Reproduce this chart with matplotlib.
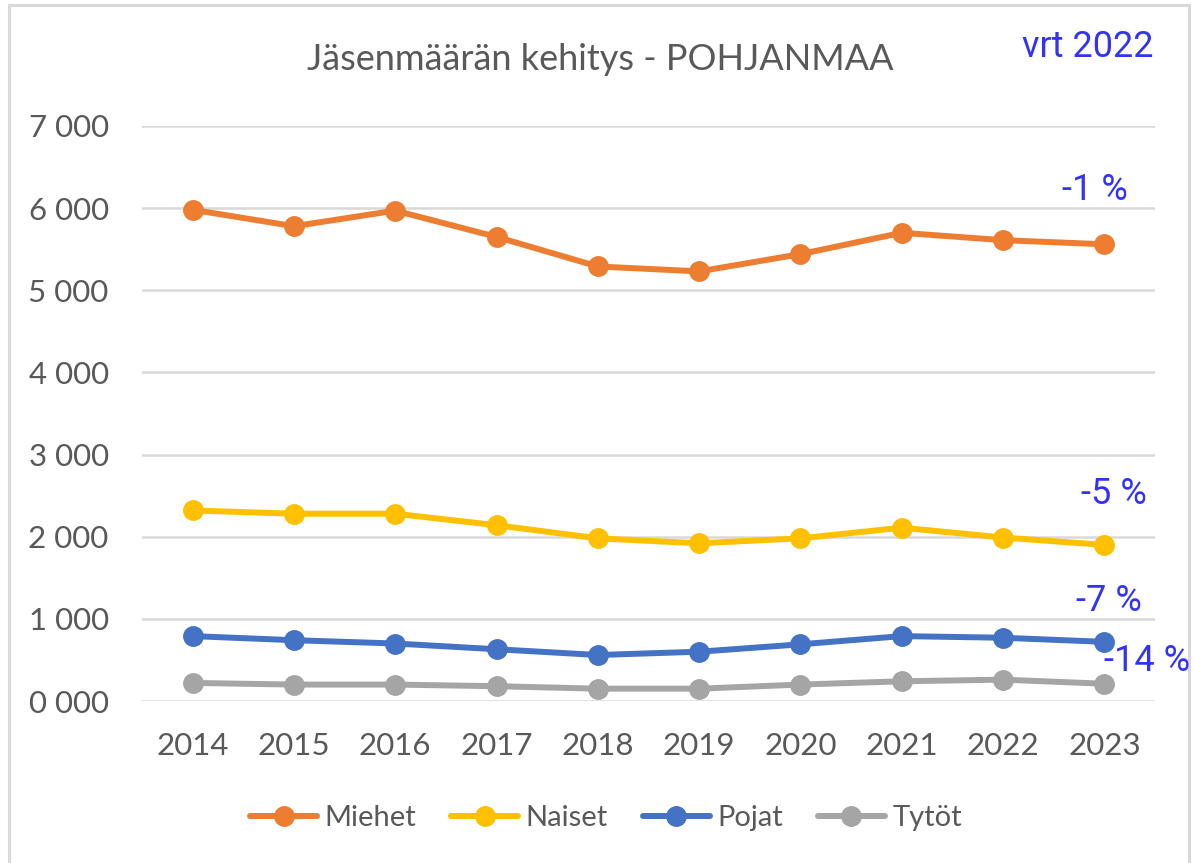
import matplotlib.pyplot as plt
from matplotlib.patches import Rectangle
from matplotlib.ticker import FuncFormatter

years = ['2014', '2015', '2016', '2017', '2018', '2019', '2020', '2021', '2022', '2023']
miehet = [5980, 5780, 5970, 5650, 5290, 5230, 5440, 5700, 5610, 5560]
naiset = [2320, 2280, 2280, 2140, 1980, 1920, 1980, 2110, 1990, 1900]
pojat = [790, 740, 700, 630, 560, 600, 690, 790, 770, 720]
tytot = [220, 200, 200, 180, 150, 150, 200, 240, 260, 210]
names = ['Miehet', 'Naiset', 'Pojat', 'Tytöt']
colors = ['#ed7d31', '#ffc000', '#4472c4', '#a5a5a5']
changes = ['-1 %', '-5 %', '-7 %', '-14 %']

W, H = 1194, 863
fig = plt.figure(figsize=(W / 100, H / 100), dpi=100)
plt.rcParams['font.family'] = ['Lato', 'DejaVu Sans']

# outer frame (no bottom edge visible in the original)
fig.patches.append(Rectangle((9 / W, -0.01), (1189 - 9) / W, 1.01 - 5 / H,
                             transform=fig.transFigure, fill=False,
                             edgecolor='#d9d9d9', linewidth=2.2))

ax = fig.add_axes([142 / W, 1 - 701 / H, (1155 - 142) / W, (701 - 126) / H])
x = range(len(years))
for vals, name, c in zip([miehet, naiset, pojat, tytot], names, colors):
    ax.plot(x, vals, color=c, linewidth=4.3, marker='o', markersize=14,
            solid_capstyle='round', label=name)

ax.set_xlim(-0.5, 9.5)
ax.set_ylim(0, 7000)
ax.set_yticks(range(0, 7001, 1000))
ax.yaxis.set_major_formatter(FuncFormatter(lambda v, p: '%d %03d' % (v // 1000, v % 1000)))
ax.set_xticks(list(x))
ax.set_xticklabels(years)
ax.grid(axis='y', color='#d9d9d9', linewidth=1.8)
ax.set_axisbelow(True)
for s in ax.spines.values():
    s.set_visible(False)
ax.tick_params(length=0, labelsize=22.5, colors='#595959')
ax.tick_params(axis='x', pad=22)
ax.tick_params(axis='y', pad=24)

fig.text(600 / W, 1 - 60 / H, 'Jäsenmäärän kehitys - POHJANMAA', ha='center', va='center',
         fontsize=26, color='#595959')

blue = '#3333f5'
narrow = ['Roboto', 'DejaVu Sans']
fig.text(1088 / W, 1 - 47 / H, 'vrt 2022', ha='center', va='center', fontsize=26,
         color=blue, family=narrow)
pos = [(1128, 190), (1147, 494), (1142, 601), (1190, 661)]
for (px, py), t in zip(pos, changes):
    fig.text(px / W, 1 - py / H, t, ha='right', va='center', fontsize=26, color=blue,
             family=narrow)

fig.legend(loc='center', bbox_to_anchor=(606 / W, 1 - 818 / H), ncol=4, frameon=False,
           fontsize=21, labelcolor='#595959', handlelength=2.3, columnspacing=1.2,
           handletextpad=0.25)

fig.savefig('out.png', dpi=100)
